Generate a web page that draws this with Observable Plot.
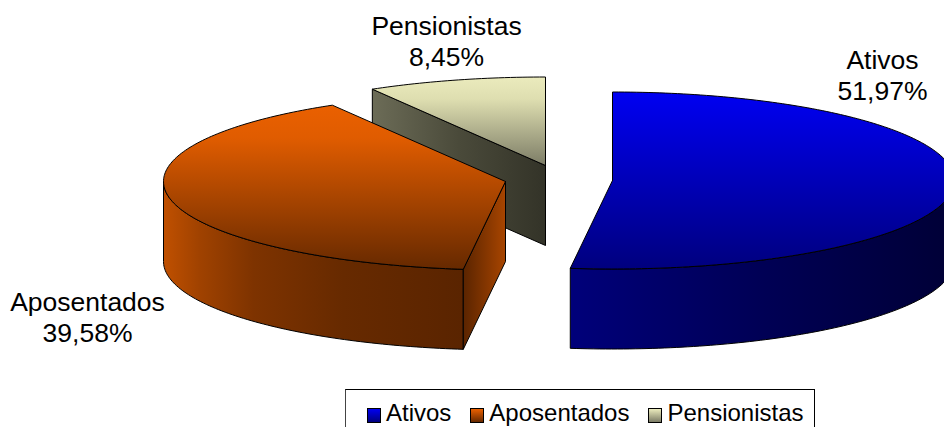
<!DOCTYPE html>
<html lang="pt">
<head>
<meta charset="utf-8">
<script src="https://cdn.jsdelivr.net/npm/d3@7"></script>
<script src="https://cdn.jsdelivr.net/npm/@observablehq/plot@0.6"></script>
<style>
  html, body { margin: 0; padding: 0; background: #fff; overflow: hidden; width: 944px; height: 427px; }
  svg { display: block; }
  #legend { position: absolute; left: 345px; top: 389px; width: 470px; height: 60px;
    border: 1px solid #000; border-left-color: #444; display: flex; align-items: flex-start;
    padding-left: 21px; box-sizing: border-box; font: 24px "Liberation Sans", Arial, sans-serif; color: #000; line-height: 26px; padding-top: 10px; }
  #legend .item { display: flex; align-items: center; margin-right: 19px; white-space: nowrap; }
  #legend .sw { width: 14px; height: 15px; box-sizing: border-box; border: 1.5px solid #000; margin-right: 5px; margin-top: 4px; }
</style>
</head>
<body>
<div id="chart"></div>
<div id="legend"></div>
<script>
// Data
const categories = ["Ativos", "Aposentados", "Pensionistas"];
const shares = [51.97, 39.58, 8.45];
const percentLabels = ["51,97%", "39,58%", "8,45%"];

// 3D pie layout (exploded slice centres, ellipse radii, wall depth)
const centreX = [612, 505, 545];
const centreY = [180, 181, 165];
const radiusX = 342, radiusY = 88.5, depth = 80;
const labelX = [882, 87, 446];
const labelY = [74, 316, 40];

// Colours
const topStops = [
  [["0%", "#0000f2"], ["100%", "#00007e"]],
  [["0%", "#ea6000"], ["20%", "#e05c00"], ["100%", "#662900"]],
  [["0%", "#ebebbd"], ["25%", "#deDEb0"], ["100%", "#7c7c66"]]
];
const sideStops = [
  [["0%", "#00007a"], ["50%", "#000055"], ["100%", "#000036"]],
  [["0%", "#c05000"], ["12%", "#a04200"], ["30%", "#7e3300"], ["60%", "#672a00"], ["100%", "#5a2400"]],
  [["0%", "#6c6c57"], ["50%", "#4a4a3a"], ["100%", "#333328"]]
];
const cutStops = [
  [["0%", "#00007a"], ["100%", "#00007a"]],
  [["0%", "#5a2400"], ["100%", "#a84500"]],
  [["0%", "#6c6c57"], ["50%", "#4a4a3a"], ["100%", "#333328"]]
];

// Slice angles follow from the shares
const ends = d3.cumsum(shares);
const total = ends[ends.length - 1];
const pt = (i, deg, drop = 0) => {
  const r = deg * Math.PI / 180;
  return { x: centreX[i] + radiusX * Math.sin(r), y: centreY[i] - radiusY * Math.cos(r) + drop };
};
const arc = (i, a, b, drop = 0) => {
  const n = Math.max(2, Math.ceil(Math.abs(b - a)));
  return d3.range(n + 1).map(k => pt(i, a + (b - a) * k / n, drop));
};
const angle = categories.map((_, i) => [(i ? ends[i - 1] : 0) / total * 360, ends[i] / total * 360]);
const apex = (i, drop = 0) => ({ x: centreX[i], y: centreY[i] + drop });

const topFace = i => [apex(i), ...arc(i, angle[i][0], angle[i][1]), apex(i)];
const outerWall = i => {
  const a = Math.max(angle[i][0], 90), b = Math.min(angle[i][1], 270);
  if (b <= a) return [];
  const u = arc(i, a, b), l = arc(i, b, a, depth);
  return [...u, ...l, u[0]];
};
const cutWall = (i, deg) => [apex(i), pt(i, deg), pt(i, deg, depth), apex(i, depth), apex(i)];

const line = (points, fill) => Plot.line(points, { x: "x", y: "y", fill, stroke: "#000", strokeWidth: 1, strokeLinejoin: "round" });

const labels = categories.map((c, i) => ({ text: c + "\n" + percentLabels[i], x: labelX[i], y: labelY[i] }));

const chart = Plot.plot({
  width: 944, height: 389,
  margin: 0,
  x: { domain: [0, 944], range: [0, 944], axis: null },
  y: { domain: [0, 389], range: [0, 389], axis: null },
  marks: [
    // Pensionistas (back)
    line(cutWall(2, angle[2][0]), "url(#side2)"),
    line(topFace(2), "url(#top2)"),
    // Ativos
    line(outerWall(0), "url(#side0)"),
    line(topFace(0), "url(#top0)"),
    // Aposentados (front left)
    line(outerWall(1), "url(#side1)"),
    line(cutWall(1, angle[1][0]), "url(#cut1)"),
    line(topFace(1), "url(#top1)"),
    Plot.text(labels, { x: "x", y: "y", text: "text", fontSize: 26.5, lineHeight: 1.17, fill: "#000", textAnchor: "middle" })
  ],
  style: { fontFamily: '"Liberation Sans", Arial, sans-serif', background: "transparent" }
});

// Gradients used by the faces
const defs = d3.select(chart).insert("defs", ":first-child");
const grad = (id, stops, vertical) => {
  const g = defs.append("linearGradient").attr("id", id).attr("x1", 0).attr("y1", 0)
    .attr("x2", vertical ? 0 : 1).attr("y2", vertical ? 1 : 0);
  stops.forEach(([o, c]) => g.append("stop").attr("offset", o).attr("stop-color", c));
};
categories.forEach((_, i) => {
  grad("top" + i, topStops[i], true);
  grad("side" + i, sideStops[i], false);
  grad("cut" + i, cutStops[i], false);
});
document.getElementById("chart").append(chart);

// Legend below the SVG
const legend = d3.select("#legend");
categories.forEach((c, i) => {
  const it = legend.append("div").attr("class", "item");
  it.append("span").attr("class", "sw")
    .style("background", `linear-gradient(${topStops[i][0][1]}, ${topStops[i][topStops[i].length - 1][1]})`);
  it.append("span").text(c);
});
</script>
</body>
</html>
